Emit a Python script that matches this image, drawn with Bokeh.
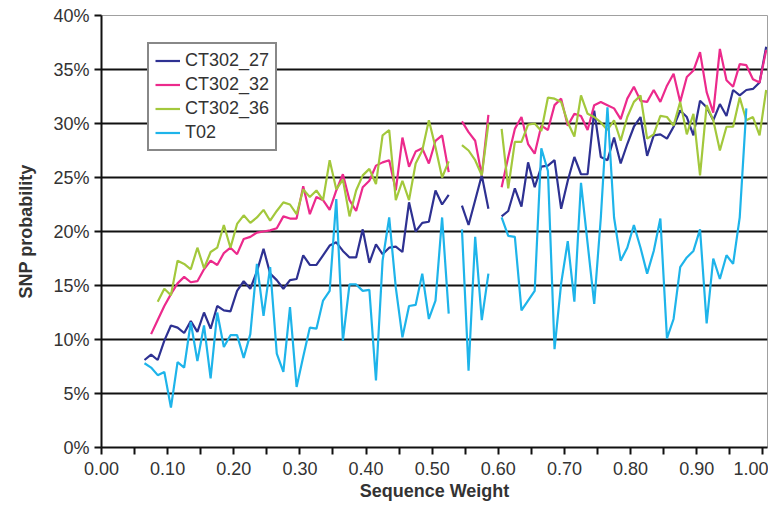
import numpy as np
from bokeh.plotting import figure
from bokeh.models import Range1d, FixedTicker, PrintfTickFormatter, Legend, LegendItem
from bokeh.embed import file_html
from bokeh.resources import INLINE

nan = float("nan")

# Sequence weights (x), one sample every 0.01
weights = [round(0.065 + 0.01 * k, 3) for k in range(95)]

ct302_27 = [8.1, 8.6, 8.1, 9.9, 11.3, 11.1, 10.6, 11.7, 10.7, 12.5,
            11.0, 13.1, 12.7, 12.6, 14.5, 15.4, 14.7, 16.3, 18.4, 16.1,
            15.5, 14.7, 15.5, 15.6, 17.8, 16.9, 16.9, 17.8, 18.7, 19.0,
            18.2, 17.6, 17.6, 20.2, 17.1, 18.8, 17.9, 18.5, 18.6, 18.1,
            22.7, 20.0, 20.8, 20.9, 23.8, 22.5, 23.4, nan, 22.4, 20.6,
            22.9, 25.2, 22.1, nan, 21.4, 21.9, 24.0, 22.3, 26.4, 24.1,
            26.0, 26.1, 26.6, 22.1, 24.7, 26.9, 25.3, 25.3, 31.2, 26.9,
            26.6, 28.7, 26.3, 28.1, 29.7, 30.6, 27.0, 28.9, 29.0, 28.6,
            29.7, 31.2, 30.6, 28.9, 32.1, 31.5, 30.3, 31.8, 30.7, 33.1,
            32.6, 33.1, 33.2, 33.8, 37.1]

ct302_32 = [nan, 10.5, 11.8, 13.1, 14.2, 15.2, 15.8, 15.3, 15.4, 16.5,
            17.3, 16.9, 18.0, 18.5, 17.9, 19.3, 19.5, 19.9, 20.0, 20.1,
            20.3, 21.4, 21.2, 21.2, 24.2, 21.6, 23.2, 22.9, 22.0, 23.8,
            25.3, 22.9, 21.9, 24.1, 24.7, 26.1, 26.4, 26.6, 23.8, 28.7,
            26.0, 27.4, 27.7, 26.3, 28.4, 28.9, 25.5, nan, 30.2, 29.2,
            28.4, 25.2, 30.8, nan, 24.1, 26.9, 29.5, 30.6, 28.1, 27.2,
            29.8, 29.4, 31.7, 32.3, 29.8, 30.9, 30.7, 29.4, 31.7, 32.0,
            31.7, 31.4, 30.4, 32.3, 33.4, 32.1, 32.0, 33.1, 32.0, 33.5,
            34.6, 32.0, 34.3, 34.9, 36.6, 32.9, 31.0, 36.9, 34.0, 33.4,
            35.5, 35.4, 34.1, 33.8, 36.8]

ct302_36 = [nan, nan, 13.5, 14.7, 14.1, 17.3, 17.0, 16.5, 18.5, 16.6,
            18.1, 18.5, 20.6, 18.5, 20.7, 21.5, 20.8, 21.3, 22.0, 21.0,
            21.9, 22.7, 22.5, 21.6, 23.9, 23.2, 23.8, 22.9, 26.6, 23.9,
            24.8, 21.4, 23.8, 25.2, 25.8, 24.4, 28.9, 29.4, 22.9, 24.7,
            22.9, 26.3, 27.5, 30.3, 27.8, 25.0, 26.5, nan, 28.0, 27.5,
            26.6, 25.2, 30.0, nan, 29.5, 24.0, 28.3, 28.3, 29.9, 30.0,
            29.3, 32.4, 32.3, 32.0, 30.1, 28.8, 32.6, 30.9, 30.6, 30.1,
            29.4, 30.3, 28.4, 30.6, 32.0, 32.6, 28.6, 29.0, 30.7, 30.6,
            29.8, 32.0, 29.0, 30.9, 25.2, 31.7, 30.3, 27.5, 29.7, 29.7,
            32.4, 30.3, 30.6, 28.9, 33.1]

t02 = [7.8, 7.4, 6.7, 7.0, 3.7, 7.9, 7.4, 11.6, 8.0, 11.3,
       6.4, 12.5, 9.3, 10.4, 10.4, 8.3, 10.5, 17.0, 12.2, 16.7,
       8.7, 7.0, 13.0, 5.6, 8.4, 11.1, 11.0, 13.6, 14.5, 23.0,
       9.9, 15.1, 15.1, 14.5, 14.6, 6.2, 17.3, 21.3, 14.8, 10.2,
       13.1, 13.2, 16.1, 11.9, 13.6, 21.3, 12.4, nan, 20.2, 7.1,
       19.5, 11.8, 16.1, nan, 21.3, 19.6, 19.5, 12.7, 13.6, 14.5,
       27.7, 25.6, 9.1, 15.2, 19.1, 13.5, 24.5, 18.9, 13.3, 21.3,
       31.5, 21.3, 17.3, 18.5, 20.6, 18.5, 16.1, 18.2, 21.2, 10.1,
       11.9, 16.7, 17.6, 18.2, 20.2, 11.5, 17.5, 15.6, 17.8, 17.0,
       21.3, 31.4, nan, nan, nan]

series = [("CT302_27", ct302_27, "#2E3192"),
          ("CT302_32", ct302_32, "#EC2A8C"),
          ("CT302_36", ct302_36, "#A3C83C"),
          ("T02", t02, "#1EB4EA")]

x_ticks = [0.0, 0.1, 0.2, 0.3, 0.4, 0.5, 0.6, 0.7, 0.8, 0.9, 1.0]
x_minor = [0.05, 0.15, 0.25, 0.35, 0.45, 0.55, 0.65, 0.75, 0.85, 0.95]
y_ticks = [0, 5, 10, 15, 20, 25, 30, 35, 40]

FONT = "Liberation Sans"

p = figure(width=768, height=504, output_backend="svg", toolbar_location=None,
           x_range=Range1d(0, 1.007), y_range=Range1d(0, 40),
           min_border_left=101, min_border_right=1, min_border_top=15,
           min_border_bottom=57)

p.outline_line_color = "#A0A0A0"
p.outline_line_width = 1
p.xgrid.visible = False
p.ygrid.ticker = FixedTicker(ticks=[5, 10, 15, 20, 25, 30, 35])
p.ygrid.grid_line_color = "#111111"
p.ygrid.grid_line_width = 2

items = []
for name, vals, col in series:
    r = p.line(weights, vals, line_color=col, line_width=2.2)
    items.append(LegendItem(label=name, renderers=[r]))

xa = p.xaxis[0]
xa.ticker = FixedTicker(ticks=x_ticks, minor_ticks=x_minor)
xa.formatter = PrintfTickFormatter(format="%.2f")
ya = p.yaxis[0]
ya.ticker = FixedTicker(ticks=y_ticks)
ya.formatter = PrintfTickFormatter(format="%d%%")

for ax in (xa, ya):
    ax.axis_line_color = "#111111"
    ax.axis_line_width = 2
    ax.major_tick_line_color = "#111111"
    ax.major_tick_line_width = 2
    ax.minor_tick_line_color = "#111111"
    ax.minor_tick_line_width = 2
    ax.major_tick_in = 0
    ax.major_tick_out = 7
    ax.minor_tick_in = 0
    ax.minor_tick_out = 7
    ax.major_label_text_font = FONT
    ax.major_label_text_font_size = "18px"
    ax.major_label_text_color = "#333333"
    ax.axis_label_text_font = FONT
    ax.axis_label_text_font_size = "18px"
    ax.axis_label_text_font_style = "bold"
    ax.axis_label_text_color = "#333333"

ya.minor_tick_out = 0
xa.axis_label = "Sequence Weight"
ya.axis_label = "SNP probability"
xa.major_label_standoff = 7
xa.axis_label_standoff = 3
ya.major_label_standoff = 5
ya.axis_label_standoff = 14

legend = Legend(items=items, location=(46, 296))
legend.label_text_font = FONT
legend.label_text_font_size = "18px"
legend.label_text_color = "#333333"
legend.glyph_width = 25
legend.glyph_height = 21
legend.label_height = 21
legend.label_standoff = 5
legend.spacing = 3
legend.padding = 6
legend.margin = 0
legend.border_line_color = "#111111"
legend.border_line_width = 2
legend.background_fill_color = "white"
legend.background_fill_alpha = 1
p.add_layout(legend)

open("out.html", "w").write(file_html(p, INLINE))
